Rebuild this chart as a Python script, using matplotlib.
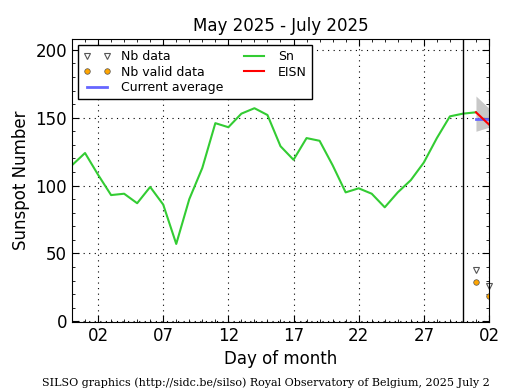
import numpy as np
import matplotlib
matplotlib.use("Agg")
import matplotlib.pyplot as plt
from matplotlib.ticker import MultipleLocator, FixedLocator

# ---------- data ----------
sn_days = np.arange(0, 32)  # day 0 = May 31
sn_vals = [115, 124, 108, 93, 94, 87, 99, 86, 57, 90, 113, 146, 143, 153, 157, 152,
           129, 119, 135, 133, 115, 95, 98, 94, 84, 95, 104, 117, 135, 151, 153, 154]

eisn_days = [31, 32]
eisn_vals = [154, 145]
band_low = [140, 143]
band_high = [166, 157]
avg_val = 149

nb_days = [31, 32]
nb_data = [38, 26]
nb_valid = [29, 19]

tick_days = [2, 7, 12, 17, 22, 27, 32]
tick_labels = ["02", "07", "12", "17", "22", "27", "02"]
month_end = 30

# ---------- figure ----------
fig = plt.figure(figsize=(5.15, 3.9), dpi=100)
ax = fig.add_axes([0.1398, 0.1744, 0.8097, 0.7256])

ax.fill_between(eisn_days, band_low, band_high, color="#c8c8c8", lw=0)
ax.plot(nb_days, nb_data, ls="none", marker="v", ms=4, mfc="white", mec="#555555",
        mew=0.8, label="Nb data", clip_on=False)
ax.plot(nb_days, nb_valid, ls="none", marker="o", ms=4, mfc="orange", mec="#555555",
        mew=0.5, label="Nb valid data")
ax.plot(eisn_days, [avg_val, avg_val], color="#6666ff", lw=2, label="Current average")
ax.plot(sn_days, sn_vals, color="#33cc33", lw=1.5, label="Sn")
ax.plot(eisn_days, eisn_vals, color="red", lw=1.5, label="EISN")
ax.axvline(month_end, color="black", lw=1)

ax.set_xlim(0, 32)
ax.set_ylim(-0.5, 208)
ax.xaxis.set_major_locator(FixedLocator(tick_days))
ax.set_xticklabels(tick_labels)
ax.xaxis.set_minor_locator(MultipleLocator(1))
ax.yaxis.set_major_locator(MultipleLocator(50))
ax.yaxis.set_minor_locator(MultipleLocator(10))
ax.tick_params(which="both", direction="in", top=True, right=True, labelsize=12)
ax.tick_params(which="major", length=5)
ax.tick_params(which="minor", length=2.5)
ax.grid(True, which="major", ls=(0, (1, 4)), color="black", lw=0.8)

ax.set_title("May 2025 - July 2025", fontsize=12)
ax.set_xlabel("Day of month", fontsize=12)
ax.set_ylabel("Sunspot Number", fontsize=12)

leg = ax.legend(loc="upper left", ncol=2, fontsize=9, numpoints=2, fancybox=False,
                framealpha=1, edgecolor="black", borderaxespad=0.5,
                handlelength=2.2, columnspacing=1.4, labelspacing=0.2)
leg.get_frame().set_linewidth(1)

fig.text(0.517, 0.01, "SILSO graphics (http://sidc.be/silso) Royal Observatory of Belgium, 2025 July 2",
         ha="center", fontsize=8, family="DejaVu Serif")

fig.savefig("out.png", dpi=100)
